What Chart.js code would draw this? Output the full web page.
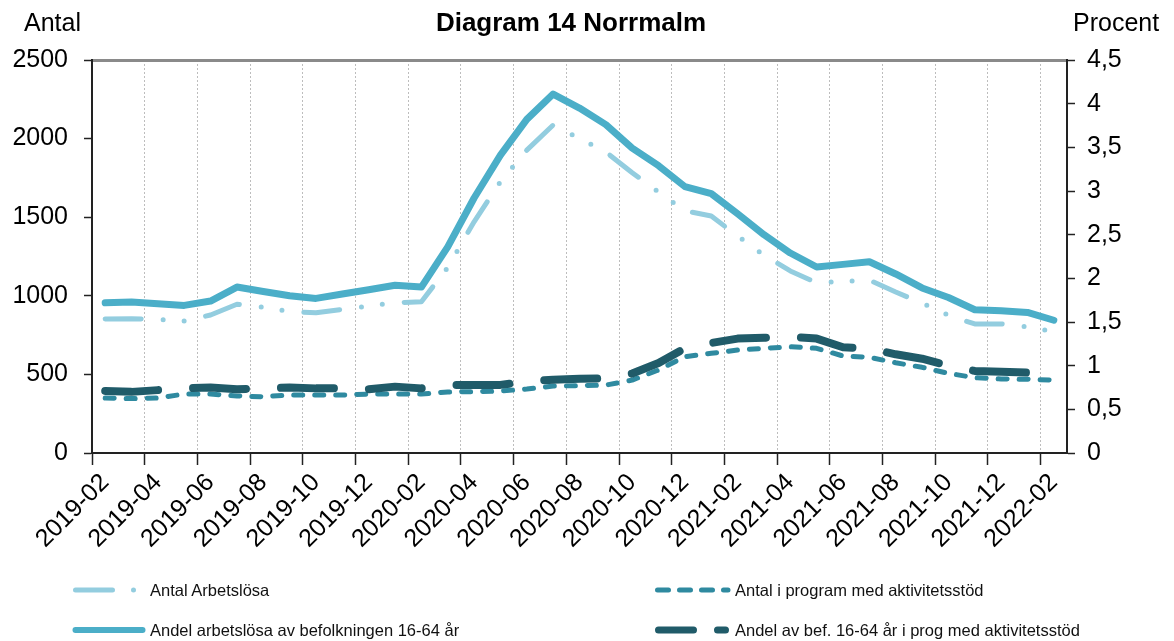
<!DOCTYPE html>
<html><head><meta charset="utf-8">
<script src="https://cdn.jsdelivr.net/npm/chart.js@4.4.1/dist/chart.umd.min.js"></script>
<style>
body{margin:0;background:#fff;font-family:"Liberation Sans",Arial,sans-serif;}
#wrap{position:relative;width:1174px;height:641px;overflow:hidden;}
canvas{position:absolute;left:0;top:0;}
.t{position:absolute;color:#000;white-space:nowrap;line-height:25px;font-size:25px;}
.lg{position:absolute;color:#111;white-space:nowrap;font-size:16.5px;line-height:20px;}
svg{position:absolute;}
</style></head><body>
<div id="wrap">
<canvas id="c" width="1174" height="641"></canvas>
<div class="t" style="left:24px;top:10px;">Antal</div>
<div class="t" style="left:571px;top:10px;transform:translateX(-50%);font-weight:bold;font-size:26px;">Diagram 14 Norrmalm</div>
<div class="t" style="left:1073px;top:10px;">Procent</div>

<svg style="left:72px;top:585px" width="80" height="10"><line x1="3.5" y1="5" x2="66" y2="5" stroke="#93CDDF" stroke-width="5" stroke-linecap="round" stroke-dasharray="37 21 0 100"/></svg>
<div class="lg" style="left:150px;top:580px;">Antal Arbetslösa</div>
<svg style="left:72px;top:625px" width="80" height="10"><line x1="3.5" y1="5" x2="70.5" y2="5" stroke="#4BAEC8" stroke-width="6" stroke-linecap="round"/></svg>
<div class="lg" style="left:150px;top:620px;">Andel arbetslösa av befolkningen 16-64 år</div>

<svg style="left:652px;top:585px" width="84" height="10"><line x1="5.5" y1="5" x2="76" y2="5" stroke="#2F8AA0" stroke-width="5" stroke-linecap="round" stroke-dasharray="11 11"/></svg>
<div class="lg" style="left:735px;top:580px;">Antal i program med aktivitetsstöd</div>
<svg style="left:652px;top:625px" width="84" height="10"><line x1="6.5" y1="5" x2="76" y2="5" stroke="#205B69" stroke-width="7" stroke-linecap="round" stroke-dasharray="35 24 8 100"/></svg>
<div class="lg" style="left:735px;top:620px;">Andel av bef. 16-64 år i prog med aktivitetsstöd</div>
</div>
<script>
const labels = ['2019-02','2019-03','2019-04','2019-05','2019-06','2019-07','2019-08','2019-09','2019-10','2019-11','2019-12',
 '2020-01','2020-02','2020-03','2020-04','2020-05','2020-06','2020-07','2020-08','2020-09','2020-10','2020-11','2020-12',
 '2021-01','2021-02','2021-03','2021-04','2021-05','2021-06','2021-07','2021-08','2021-09','2021-10','2021-11','2021-12',
 '2022-01','2022-02'];
const antalArbetslosa = [852,854,849,840,878,946,927,900,892,914,935,956,962,1181,1471,1726,1927,2086,2000,1915,1783,1660,1541,1508,1380,1259,1158,1083,1092,1100,1024,954,876,821,821,803,772];
const antalProgram = [350,346,350,375,375,363,358,369,369,369,375,375,375,388,390,394,407,426,428,432,464,528,613,634,655,666,676,666,617,609,574,545,507,479,471,469,464];
const andelArbetslosa = [1.72,1.73,1.71,1.69,1.74,1.90,1.85,1.80,1.77,1.82,1.87,1.92,1.90,2.36,2.92,3.41,3.82,4.11,3.95,3.76,3.49,3.29,3.05,2.97,2.74,2.50,2.29,2.13,2.16,2.19,2.05,1.89,1.78,1.64,1.63,1.61,1.52];
const andelProgram = [0.71,0.70,0.72,0.74,0.75,0.73,0.74,0.75,0.74,0.74,0.73,0.76,0.74,0.78,0.78,0.78,0.82,0.84,0.85,0.855,0.91,1.03,1.20,1.26,1.31,1.32,1.33,1.31,1.21,1.20,1.13,1.08,1.00,0.94,0.93,0.92,0.92];
const leftMax = 2500, leftStep = 500, rightMax = 4.5, rightStep = 0.5;

Chart.defaults.font.family = '"Liberation Sans", Arial, sans-serif';
Chart.defaults.color = '#000';

new Chart(document.getElementById('c'), {
  type: 'line',
  data: {
    labels: labels,
    datasets: [
      {label:'Andel av bef. 16-64 år i prog med aktivitetsstöd', data: andelProgram, yAxisID:'y1', borderColor:'#205B69', borderWidth:8, borderDash:[53,35], borderCapStyle:'round', borderJoinStyle:'round', fill:false},
      {label:'Andel arbetslösa av befolkningen 16-64 år', data: andelArbetslosa, yAxisID:'y1', borderColor:'#4BAEC8', borderWidth:7, borderCapStyle:'round', borderJoinStyle:'round', fill:false},
      {label:'Antal i program med aktivitetsstöd', data: antalProgram, yAxisID:'y', borderColor:'#2F8AA0', borderWidth:5, borderDash:[9,12], borderCapStyle:'round', borderJoinStyle:'round', fill:false},
      {label:'Antal Arbetslösa', data: antalArbetslosa, yAxisID:'y', borderColor:'#93CDDF', borderWidth:5, borderDash:[36,22,0,21,0,22], borderCapStyle:'round', borderJoinStyle:'round', fill:false}
    ]
  },
  options: {
    responsive:false, animation:false,
    layout:{padding:{left:0,right:0,top:60,bottom:0}},
    plugins:{legend:{display:false}, tooltip:{enabled:false}, title:{display:false}},
    elements:{point:{radius:0}, line:{tension:0}},
    scales:{
      x:{type:'category', position:'bottom', offset:true,
        grid:{offset:true, drawOnChartArea:true, lineWidth:1,
          color: c => (c.index % 2 === 0 ? '#bdbdbd' : 'rgba(0,0,0,0)'),
          tickColor: c => (c.index % 2 === 0 ? '#222' : 'rgba(0,0,0,0)'),
          tickLength:12, tickWidth:1.5},
        border:{display:true, color:'#222', width:2, dash:[2,2]},
        ticks:{autoSkip:false, maxRotation:45, minRotation:45, padding:3, color:'#000', font:{size:25},
          callback: function(v, i){ return i % 2 === 0 ? this.getLabelForValue(v) : ''; }},
        afterFit: s => { s.height = 188; }
      },
      xTop:{type:'category', position:'top', offset:true,
        grid:{display:false, drawTicks:false, drawOnChartArea:false},
        ticks:{display:false},
        border:{display:true, color:'#8a8a8a', width:3},
        afterFit: s => { s.height = 0; }
      },
      y:{position:'left', min:0, max:leftMax,
        ticks:{stepSize:leftStep, padding:16, color:'#000', font:{size:25},
          callback: v => String(v)},
        grid:{drawOnChartArea:false, tickLength:8, tickColor:'#222', tickWidth:1.5},
        border:{color:'#222', width:2},
        afterFit: s => { s.width = 92; }
      },
      y1:{position:'right', min:0, max:rightMax,
        ticks:{stepSize:rightStep, padding:12, color:'#000', font:{size:25},
          callback: v => String(v).replace('.', ',')},
        grid:{drawOnChartArea:false, tickLength:8, tickColor:'#222', tickWidth:1.5},
        border:{color:'#222', width:2},
        afterFit: s => { s.width = 107; }
      }
    }
  }
});
</script>
</body></html>
